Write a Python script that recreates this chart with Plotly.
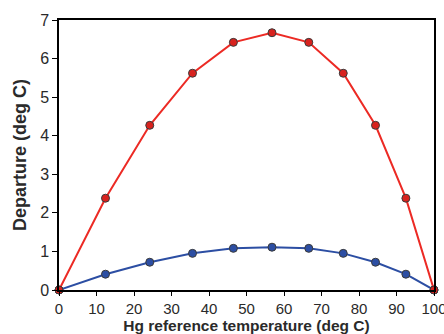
import plotly.graph_objects as go

temps = [0, 12.4, 24.2, 35.6, 46.5, 56.8, 66.6, 75.8, 84.4, 92.5, 100]
red_vals = [0, 2.38, 4.27, 5.62, 6.42, 6.67, 6.42, 5.62, 4.27, 2.38, 0]
blue_vals = [0, 0.41, 0.72, 0.95, 1.08, 1.11, 1.08, 0.95, 0.72, 0.41, 0]
x_ticks = [0, 10, 20, 30, 40, 50, 60, 70, 80, 90, 100]
y_ticks = [0, 1, 2, 3, 4, 5, 6, 7]

fig = go.Figure()
fig.add_trace(go.Scatter(x=temps, y=blue_vals, mode="lines+markers",
                         line=dict(color="#2c4ea3", width=2),
                         marker=dict(size=8, color="#2c4ea3", line=dict(color="#3a3a3a", width=1)),
                         cliponaxis=False))
fig.add_trace(go.Scatter(x=temps, y=red_vals, mode="lines+markers",
                         line=dict(color="#ec2a24", width=2),
                         marker=dict(size=8, color="#d8221e", line=dict(color="#3a3a3a", width=1)),
                         cliponaxis=False))

font = "Arial, Liberation Sans, sans-serif"
fig.update_layout(
    width=444, height=334,
    margin=dict(l=59, r=10, t=20, b=44),
    paper_bgcolor="white", plot_bgcolor="white",
    showlegend=False,
    font=dict(family=font, color="#2a2a2a", size=16),
    xaxis=dict(range=[0, 100], tickvals=x_ticks, ticks="outside", ticklen=4, tickwidth=1.3,
               tickcolor="black", showline=True, linecolor="black", linewidth=1.5,
               mirror=True, showgrid=False, zeroline=False, automargin=False,
               ticklabeloverflow="allow",
               tickfont=dict(size=15),
               title=dict(text="<b>Hg reference temperature (deg C)</b>", font=dict(size=15.5), standoff=0)),
    yaxis=dict(range=[0, 7], tickvals=y_ticks, ticks="outside", ticklen=5, tickwidth=1.3,
               tickcolor="black", showline=True, linecolor="black", linewidth=1.5,
               mirror=True, showgrid=False, zeroline=False, automargin=False,
               tickfont=dict(size=16),
               title=dict(text="<b>Departure (deg C)</b>", font=dict(size=18), standoff=9)),
)
fig.write_html("out.html", config={"displayModeBar": False},
               post_script="document.body.style.margin='0';document.body.style.overflow='hidden';")
